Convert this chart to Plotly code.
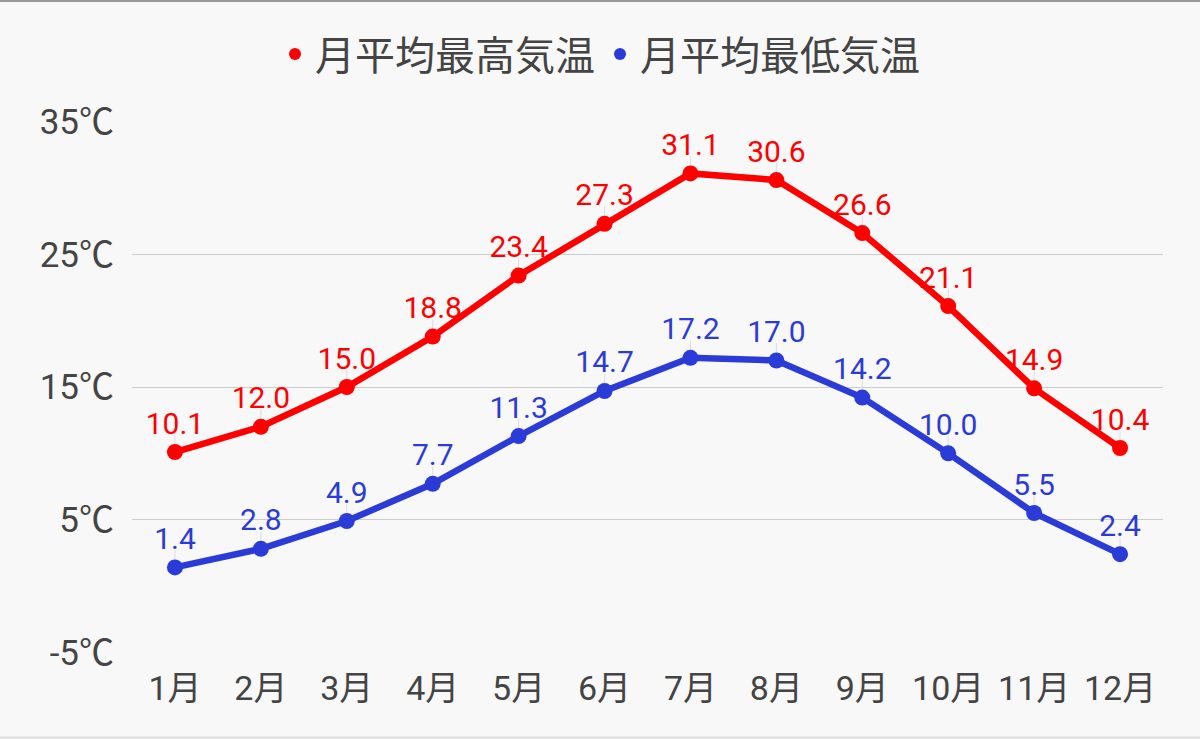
import plotly.graph_objects as go

months = ["1月", "2月", "3月", "4月", "5月", "6月", "7月", "8月", "9月", "10月", "11月", "12月"]
high = [10.1, 12.0, 15.0, 18.8, 23.4, 27.3, 31.1, 30.6, 26.6, 21.1, 14.9, 10.4]
low = [1.4, 2.8, 4.9, 7.7, 11.3, 14.7, 17.2, 17.0, 14.2, 10.0, 5.5, 2.4]
ytick_vals = [-5, 5, 15, 25, 35]
ytick_nums = ["-5", "5", "15", "25", "35"]

FONT = "Roboto, 'Noto Sans CJK JP', sans-serif"
CJK = "Noto Sans CJK JP"
RED = "#ff0000"
BLUE = "#2b3bd8"
W, H = 1200, 739
ML, MR, MT, MB = 132, 37, 121, 86
PW = W - ML - MR
PH = H - MT - MB

ytick_text = [f"{n}<span style='font-family:{CJK}'>℃</span>" for n in ytick_nums]

fig = go.Figure()
for name, vals, col in [("月平均最高気温", high, RED), ("月平均最低気温", low, BLUE)]:
    fig.add_trace(go.Scatter(
        x=months, y=vals, name=name, mode="lines+markers+text", showlegend=False,
        line=dict(color=col, width=6.5),
        marker=dict(color=col, size=16),
        error_y=dict(type="constant", value=1.3, valueminus=0, symmetric=False,
                     color="#dddddd", thickness=1, width=0),
        text=[f"{v:.1f}" for v in vals], textposition="top center",
        textfont=dict(color=col, size=30, family=FONT),
        cliponaxis=False,
    ))
    # legend entry (dot only)
    fig.add_trace(go.Scatter(x=[None], y=[None], name=name, mode="markers",
                             marker=dict(color=col, size=12)))

fig.update_layout(
    width=W, height=H,
    paper_bgcolor="#f8f8f8", plot_bgcolor="#f8f8f8",
    margin=dict(l=ML, r=MR, t=MT, b=MB, autoexpand=False),
    font=dict(family=FONT, color="#444444"),
    showlegend=True,
    legend=dict(orientation="h", x=(W / 2 - ML) / PW, xanchor="center",
                y=1 + 67 / PH, yanchor="middle",
                font=dict(size=40, color="#444444"),
                itemwidth=30, bgcolor="rgba(0,0,0,0)"),
    xaxis=dict(type="category", range=[-0.5, 11.5], showgrid=False, zeroline=False,
               showline=False, ticks="", tickfont=dict(size=34, color="#444444"), ticklabelstandoff=12),
    yaxis=dict(range=[-5.05, 35.05], tickvals=ytick_vals, ticktext=ytick_text,
               showgrid=True, gridcolor="#cccccc", gridwidth=1, zeroline=False, showline=False,
               tickfont=dict(size=35, color="#444444"), ticks="", ticklabelstandoff=17),
    shapes=[
        dict(type="line", xref="paper", yref="paper", x0=-ML / PW, x1=1 + MR / PW,
             y0=1 + (MT - 1) / PH, y1=1 + (MT - 1) / PH, line=dict(color="#999999", width=2)),
        dict(type="line", xref="paper", yref="paper", x0=-ML / PW, x1=1 + MR / PW,
             y0=-(MB - 1.5) / PH, y1=-(MB - 1.5) / PH, line=dict(color="#dddddd", width=2)),
    ],
)
fig.write_html("out.html", config={"displayModeBar": False},
               post_script="document.body.style.margin='0';")
